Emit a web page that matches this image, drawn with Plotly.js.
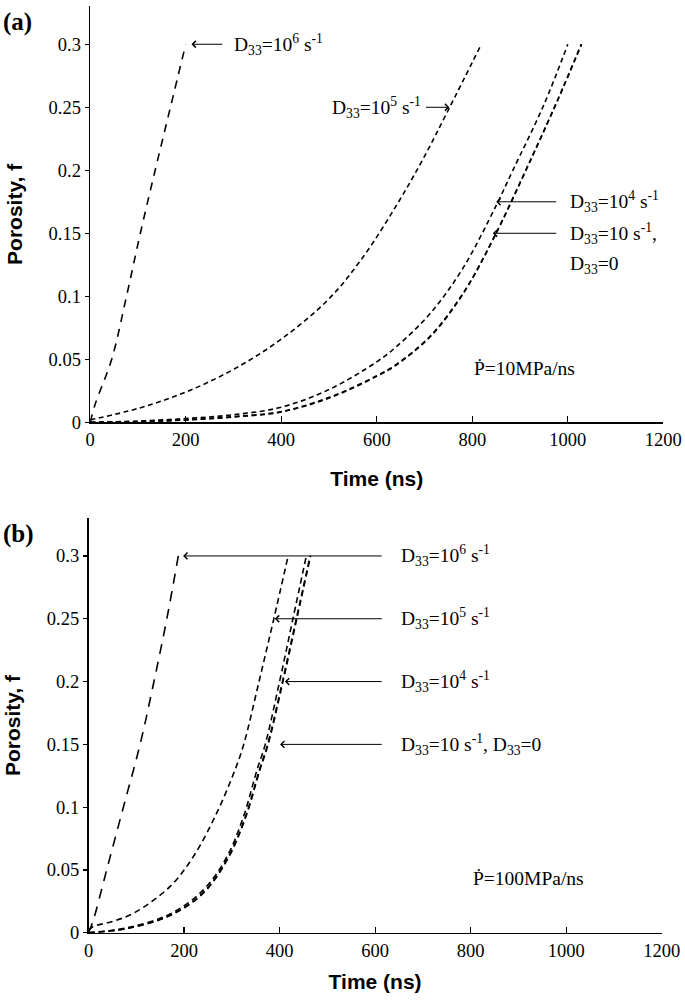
<!DOCTYPE html>
<html>
<head>
<meta charset="utf-8">
<script src="https://cdn.plot.ly/plotly-3.0.1.min.js"></script>
<style>html,body{margin:0;padding:0;background:#fff;}</style>
</head>
<body>
<div id="chart" style="width:685px;height:1002px;"></div>
<script>
// ---------- Data ----------
// Panel (a): P-dot = 10 MPa/ns
const tA_1e6 = [0, 10, 45, 76, 105, 136, 168, 200];
const fA_1e6 = [0, 0.014, 0.05, 0.1, 0.15, 0.2, 0.25, 0.3];
const tA_1e5 = [0, 100, 200, 300, 400, 500, 571, 641, 697, 750, 819];
const fA_1e5 = [0.002, 0.011, 0.024, 0.042, 0.066, 0.098, 0.131, 0.172, 0.209, 0.248, 0.3];
const tA_1e4 = [0, 100, 200, 300, 400, 500, 600, 641, 711, 780, 850, 885, 950, 1000];
const fA_1e4 = [0, 0.001, 0.003, 0.006, 0.012, 0.026, 0.048, 0.06, 0.086, 0.122, 0.172, 0.2, 0.252, 0.3];
const tA_10 = [0, 100, 200, 300, 400, 502, 600, 641, 711, 780, 843, 924, 980, 1028];
const fA_10 = [0, 0.0005, 0.002, 0.0045, 0.0085, 0.02, 0.037, 0.046, 0.068, 0.102, 0.145, 0.21, 0.257, 0.3];
const tA_0 = [0, 100, 200, 300, 400, 502, 600, 641, 711, 780, 843, 924, 980, 1029];
const fA_0 = [0, 0.0004, 0.0018, 0.0042, 0.0082, 0.0195, 0.0365, 0.0455, 0.0675, 0.1015, 0.1445, 0.2095, 0.2565, 0.3];

// Panel (b): P-dot = 100 MPa/ns
const tB_1e6 = [0, 10, 38, 73, 108, 137, 164, 188];
const fB_1e6 = [0, 0.01, 0.05, 0.1, 0.15, 0.2, 0.25, 0.3];
const tB_1e5 = [0, 10, 50, 94, 171, 220, 268, 307, 325, 357, 388, 418];
const fB_1e5 = [0.002, 0.005, 0.009, 0.0155, 0.037, 0.061, 0.095, 0.13, 0.15, 0.2, 0.25, 0.3];
const tB_1e4 = [0, 80, 171, 240, 289, 324, 353, 370, 400, 428, 456];
const fB_1e4 = [0, 0.004, 0.015, 0.034, 0.06, 0.092, 0.13, 0.15, 0.2, 0.25, 0.3];
const tB_10 = [0, 80, 171, 240, 292, 328, 358, 375, 406, 435, 464];
const fB_10 = [0, 0.0035, 0.014, 0.032, 0.06, 0.092, 0.13, 0.15, 0.2, 0.25, 0.3];
const tB_0 = [0, 80, 171, 241, 293, 329, 359, 376, 407, 436, 465];
const fB_0 = [0, 0.0034, 0.0138, 0.0318, 0.0598, 0.0918, 0.1298, 0.1498, 0.1998, 0.2498, 0.3];

// Axis ticks
const xTicks = [0, 200, 400, 600, 800, 1000, 1200];
const yTicks = [0, 0.05, 0.1, 0.15, 0.2, 0.25, 0.3];
const yTickText = ['0', '0.05', '0.1', '0.15', '0.2', '0.25', '0.3'];

// Labels
const labelsA = [
  {text: 'D<sub>33</sub>=10<sup>6</sup> s<sup>-1</sup>', x: 297, y: 0.3, head: [212, 0.3], tail: [280, 0.3], anchor: 'left'},
  {text: 'D<sub>33</sub>=10<sup>5</sup> s<sup>-1</sup>', x: 697, y: 0.25, head: [752, 0.25], tail: [700, 0.25], anchor: 'right'},
  {text: 'D<sub>33</sub>=10<sup>4</sup> s<sup>-1</sup>', x: 1000, y: 0.175, head: [850, 0.175], tail: [979, 0.175], anchor: 'left'},
  {text: 'D<sub>33</sub>=10 s<sup>-1</sup>,', x: 1000, y: 0.15, head: [843, 0.15], tail: [979, 0.15], anchor: 'left'},
  {text: 'D<sub>33</sub>=0', x: 1000, y: 0.125, head: null, tail: null, anchor: 'left'}
];
const labelsB = [
  {text: 'D<sub>33</sub>=10<sup>6</sup> s<sup>-1</sup>', x: 649, y: 0.3, head: [198, 0.3], tail: [617, 0.3], anchor: 'left'},
  {text: 'D<sub>33</sub>=10<sup>5</sup> s<sup>-1</sup>', x: 649, y: 0.25, head: [390, 0.25], tail: [617, 0.25], anchor: 'left'},
  {text: 'D<sub>33</sub>=10<sup>4</sup> s<sup>-1</sup>', x: 649, y: 0.2, head: [411, 0.2], tail: [617, 0.2], anchor: 'left'},
  {text: 'D<sub>33</sub>=10 s<sup>-1</sup>, D<sub>33</sub>=0', x: 649, y: 0.15, head: [401, 0.15], tail: [617, 0.15], anchor: 'left'}
];
const rateA = 'Ṗ=10MPa/ns';
const rateB = 'Ṗ=100MPa/ns';

// ---------- Build ----------
const SERIF = 'Liberation Serif, Times New Roman, serif';
const SANS = 'Liberation Sans, Arial, sans-serif';

function tr(x, y, dash, xa, ya, name, w) {
  return {x: x, y: y, xaxis: xa, yaxis: ya, type: 'scatter', mode: 'lines', name: name,
          line: {color: '#000', width: w || 1.6, dash: dash, shape: 'spline', smoothing: 1},
          hoverinfo: 'skip'};
}
const longA = '8px,7px', shortA = '5px,3.5px';
const longB = '10px,8px', shortB = '6px,4px';
const data = [
  tr(tA_1e6, fA_1e6, longA, 'x', 'y', 'D33=1e6'),
  tr(tA_1e5, fA_1e5, shortA, 'x', 'y', 'D33=1e5'),
  tr(tA_1e4, fA_1e4, shortA, 'x', 'y', 'D33=1e4'),
  tr(tA_10, fA_10, shortA, 'x', 'y', 'D33=10'),
  tr(tA_0, fA_0, shortA, 'x', 'y', 'D33=0'),
  tr(tB_1e6, fB_1e6, longB, 'x2', 'y2', 'D33=1e6'),
  tr(tB_1e5, fB_1e5, shortB, 'x2', 'y2', 'D33=1e5'),
  tr(tB_1e4, fB_1e4, shortB, 'x2', 'y2', 'D33=1e4'),
  tr(tB_10, fB_10, shortB, 'x2', 'y2', 'D33=10'),
  tr(tB_0, fB_0, shortB, 'x2', 'y2', 'D33=0')
];

const annFont = {family: SERIF, size: 19.5, color: '#000'};
const annotations = [];
function addLabels(list, xr, yr) {
  list.forEach(function (l) {
    annotations.push({xref: xr, yref: yr, x: l.x, y: l.y, text: l.text, showarrow: false,
                      xanchor: l.anchor, yanchor: 'middle', font: annFont});
    if (l.head) {
      annotations.push({xref: xr, yref: yr, x: l.head[0], y: l.head[1], text: '',
                        showarrow: true, axref: xr, ayref: yr, ax: l.tail[0], ay: l.tail[1],
                        arrowhead: 4, arrowsize: 1.3, arrowwidth: 1, arrowcolor: '#000', standoff: 0});
    }
  });
}
addLabels(labelsA, 'x', 'y');
addLabels(labelsB, 'x2', 'y2');
annotations.push({xref: 'x', yref: 'y', x: 800, y: 0.043, text: rateA, showarrow: false, xanchor: 'left', yanchor: 'middle', font: annFont});
annotations.push({xref: 'x2', yref: 'y2', x: 800, y: 0.043, text: rateB, showarrow: false, xanchor: 'left', yanchor: 'middle', font: annFont});
const panelFont = {family: SERIF, size: 25, color: '#000', weight: 'bold'};
annotations.push({xref: 'paper', yref: 'paper', x: -0.1518, y: 1.0, text: '(a)', showarrow: false,
                  xanchor: 'left', yanchor: 'top', font: panelFont});
annotations.push({xref: 'paper', yref: 'paper', x: -0.1518, y: 0.4477, text: '(b)', showarrow: false,
                  xanchor: 'left', yanchor: 'top', font: panelFont});

function xAxis(domain, anchor, standoff) {
  return {domain: domain, anchor: anchor, range: [0, 1200], tickvals: xTicks, ticktext: xTicks.map(String),
          ticks: 'inside', ticklen: 6, tickwidth: 1.2, tickcolor: '#000', showline: true, linewidth: 1.6, linecolor: '#000',
          showgrid: false, zeroline: false, tickfont: {family: SERIF, size: 18.5, color: '#000'},
          title: {text: 'Time (ns)', font: {family: SANS, size: 21, color: '#000', weight: 'bold'}, standoff: standoff}};
}
function yAxis(domain, anchor) {
  return {domain: domain, anchor: anchor, range: [0, 0.33], tickvals: yTicks, ticktext: yTickText,
          ticks: 'outside', ticklen: 4, tickwidth: 1.2, tickcolor: '#000', showline: true, linewidth: 1.6, linecolor: '#000',
          showgrid: false, zeroline: false, tickfont: {family: SERIF, size: 18.5, color: '#000'},
          title: {text: 'Porosity, f', font: {family: SANS, size: 21, color: '#000', weight: 'bold'}, standoff: 20}};
}

const layout = {
  width: 685, height: 1002,
  margin: {l: 88, r: 21, t: 6, b: 69},
  paper_bgcolor: '#fff', plot_bgcolor: '#fff', showlegend: false,
  font: {family: SERIF, size: 18.5, color: '#000'},
  xaxis: xAxis([2.2 / 576, 575.3 / 576], 'y', 22),
  yaxis: yAxis([0.5509, 0.9995], 'x'),
  xaxis2: xAxis([0.5 / 576, 573.7 / 576], 'y2', 14),
  yaxis2: yAxis([0.0002, 0.4474], 'x2'),
  annotations: annotations
};

Plotly.newPlot('chart', data, layout, {displayModeBar: false, staticPlot: true});
</script>
</body>
</html>
